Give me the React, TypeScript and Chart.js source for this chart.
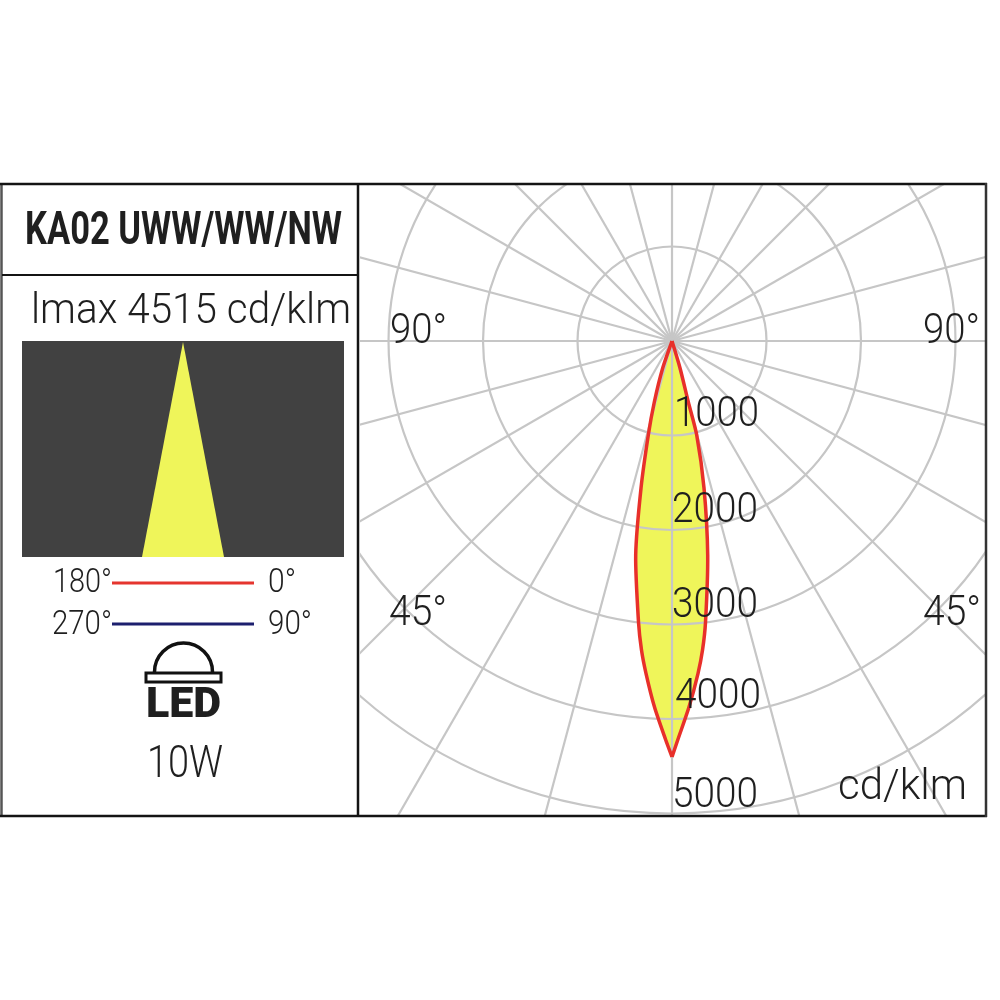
import React, { useEffect, useRef } from "react";
import { Chart, registerables } from "chart.js";

Chart.register(...registerables);

// Polar photometric curve (gamma in degrees, intensity in cd/klm)
const sideAGamma = [19, 19, 16.18, 14.15, 11.9, 9.63, 6.8, 5.64, 4.48, 2.74, 0.9, 0];
const sideAIntensity = [0, 302, 672, 1026, 1590, 2297, 2995, 3286, 3527, 3878, 4223, 4402];
const sideBGamma = [0, 0.82, 2.66, 4.48, 5.64, 6.8, 9.47, 12.28, 14.72, 14.96, 16.5, 16.5];
const sideBIntensity = [4402, 4223, 3878, 3527, 3286, 2995, 2296, 1592, 1028, 668, 298, 0];

const radialTicks = [1000, 2000, 3000, 4000, 5000];
const rayAngles = [0, 15, 30, 45, 60, 75, 90, 105, 120, 135, 150, 165, 180, 195, 210, 225, 240, 255, 270, 285, 300, 315, 330, 345];

const titleText = "KA02 UWW/WW/NW";
const imaxText = "lmax 4515 cd/klm";
const unitText = "cd/klm";
const powerText = "10W";
const angleLabelA = "90°";
const angleLabelB = "45°";
const legendRows = [
  { left: "180°", right: "0°", color: "#e5352e" },
  { left: "270°", right: "90°", color: "#1c1f6e" },
];

const FONT = "Roboto, 'Open Sans', sans-serif";
const INK = "#1f1f1f";
const GRID = "#c6c6c6";
const YELLOW = "#eff55a";
const RED = "#e8302a";

const rad = (d: number) => (d * Math.PI) / 180;
const toPoints = (gamma: number[], intensity: number[], sign: number) =>
  gamma.map((g, i) => ({
    x: sign * intensity[i] * Math.sin(rad(g)),
    y: -intensity[i] * Math.cos(rad(g)),
  }));

function text(
  ctx: CanvasRenderingContext2D,
  s: string,
  x: number,
  baseline: number,
  size: number,
  width: number,
  weight = 300,
) {
  ctx.font = `${weight} ${size}px ${FONT}`;
  ctx.fillStyle = INK;
  ctx.textAlign = "left";
  ctx.textBaseline = "alphabetic";
  ctx.fillText(s, x, baseline, width);
}

const polarGrid = {
  id: "polarGrid",
  afterDatasetDraw(chart: any, args: any) {
    if (args.index !== 2) return;
    const { ctx, chartArea: a, scales } = chart;
    const cx = scales.x.getPixelForValue(0);
    const cy = scales.y.getPixelForValue(0);
    const unit = scales.y.getPixelForValue(-1000) - cy;
    ctx.save();
    ctx.beginPath();
    ctx.rect(a.left, a.top, a.right - a.left, a.bottom - a.top);
    ctx.clip();
    ctx.strokeStyle = GRID;
    ctx.lineWidth = 2.2;
    radialTicks.forEach((t) => {
      ctx.beginPath();
      ctx.arc(cx, cy, (t / 1000) * unit, 0, Math.PI * 2);
      ctx.stroke();
    });
    rayAngles.forEach((d) => {
      ctx.beginPath();
      ctx.moveTo(cx, cy);
      ctx.lineTo(cx + Math.sin(rad(d)) * 1000, cy + Math.cos(rad(d)) * 1000);
      ctx.stroke();
    });
    ctx.restore();
  },
};

const overlay = {
  id: "overlay",
  afterDraw(chart: any) {
    const { ctx } = chart;
    ctx.save();

    // frame
    const line = (x1: number, y1: number, x2: number, y2: number, w = 2, c = "#141414") => {
      ctx.lineWidth = w;
      ctx.strokeStyle = c;
      ctx.beginPath();
      ctx.moveTo(x1, y1);
      ctx.lineTo(x2, y2);
      ctx.stroke();
    };
    line(1.5, 183, 1.5, 817, 2.5, "#555");
    line(0, 184, 987, 184, 2.5);
    line(0, 816, 987, 816, 2.5);
    line(986, 183, 986, 817, 2.5, "#333");
    line(358, 183, 358, 817, 2.5);
    line(2, 275, 358, 275, 2);

    // polar labels
    const lbls: [string, number, number, number, number][] = [
      [angleLabelA, 390, 343, 43, 57],
      [angleLabelA, 923, 343, 43, 57],
      [angleLabelB, 389, 625, 43, 58],
      [angleLabelB, 923, 625, 43, 58],
      [unitText, 838, 799, 43, 129],
      [String(radialTicks[0]), 674, 426, 43, 85],
      [String(radialTicks[1]), 672, 522, 43, 86],
      [String(radialTicks[2]), 672, 617, 43, 86],
      [String(radialTicks[3]), 675, 708, 43, 86],
      [String(radialTicks[4]), 672, 807, 43, 86],
    ];
    lbls.forEach(([s, x, y, size, w]) => text(ctx, s, x, y, size, w));

    // left panel
    text(ctx, titleText, 25, 244, 47, 317, 700);
    text(ctx, imaxText, 31, 323, 43, 320);

    ctx.fillStyle = "#414141";
    ctx.fillRect(22, 341, 322, 216);
    ctx.fillStyle = YELLOW;
    ctx.beginPath();
    ctx.moveTo(183, 342);
    ctx.lineTo(224, 557);
    ctx.lineTo(142, 557);
    ctx.closePath();
    ctx.fill();

    const rows = [
      { y: 592, lx: 53, lw: 59, ly: 583, rw: 28 },
      { y: 634, lx: 52, lw: 60, ly: 624, rw: 44 },
    ];
    legendRows.forEach((r, i) => {
      const p = rows[i];
      text(ctx, r.left, p.lx, p.y, 33, p.lw);
      text(ctx, r.right, 268, p.y, 33, p.rw);
      line(112, p.ly, 254, p.ly, 3, r.color);
    });

    // LED icon
    ctx.strokeStyle = "#111";
    ctx.lineWidth = 3.5;
    ctx.beginPath();
    ctx.arc(183.5, 672, 29, Math.PI, 0);
    ctx.stroke();
    ctx.lineWidth = 3;
    ctx.strokeRect(146, 673, 75, 9);
    text(ctx, "LED", 146, 717, 43, 77, 900);

    text(ctx, powerText, 147, 777, 44, 76);
    ctx.restore();
  },
};

export default function App() {
  const ref = useRef<HTMLCanvasElement>(null);
  useEffect(() => {
    const chart = new Chart(ref.current!, {
      type: "scatter",
      data: {
        datasets: [
          {
            data: toPoints(sideAGamma, sideAIntensity, -1),
            showLine: true,
            borderColor: RED,
            borderWidth: 3.5,
            pointRadius: 0,
            tension: 0.25,
            order: 1,
          },
          {
            data: toPoints(sideBGamma, sideBIntensity, 1),
            showLine: true,
            borderColor: RED,
            borderWidth: 3.5,
            pointRadius: 0,
            tension: 0.25,
            order: 2,
          },
          {
            data: [...toPoints(sideAGamma, sideAIntensity, -1), ...toPoints(sideBGamma, sideBIntensity, 1)],
            showLine: true,
            borderWidth: 0,
            borderColor: "transparent",
            backgroundColor: YELLOW,
            fill: "shape",
            pointRadius: 0,
            tension: 0,
            order: 3,
          },
        ],
      },
      options: {
        animation: false,
        responsive: false,
        events: [],
        layout: { padding: { left: 360, right: 14, top: 185, bottom: 185 } },
        plugins: { legend: { display: false }, tooltip: { enabled: false }, title: { display: false } },
        scales: {
          x: { type: "linear", display: false, min: -3302, max: 3323 },
          y: { type: "linear", display: false, min: -5016, max: 1651 },
        },
      },
      plugins: [polarGrid, overlay],
    } as any);
    return () => chart.destroy();
  }, []);
  return (
    <canvas
      ref={ref}
      width={1000}
      height={1000}
      style={{ position: "absolute", left: 0, top: 0, display: "block", width: 1000, height: 1000, filter: "blur(0.5px)" }}
    />
  );
}
